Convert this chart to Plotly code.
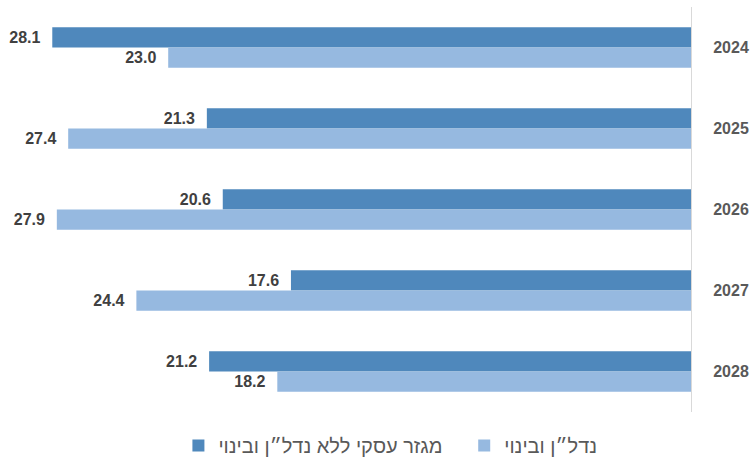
import plotly.graph_objects as go

years = ["2024", "2025", "2026", "2027", "2028"]
business_ex_re = [28.1, 21.3, 20.6, 17.6, 21.2]
real_estate = [23.0, 27.4, 27.9, 24.4, 18.2]

name_business = "מגזר עסקי ללא נדל״ן ובינוי"
name_re = "נדל״ן ובינוי"

dark = "#4F88BC"
light = "#96B9E0"
font_family = "Liberation Sans, Arial, sans-serif"
label_font = dict(family=font_family, size=16, color="#404040")
label_tpl = "<b>%{x:.1f}</b>\u00a0\u00a0"

fig = go.Figure()
fig.add_trace(go.Bar(
    y=years, x=business_ex_re, name=name_business + "\u00a0" * 3, orientation="h",
    marker=dict(color=dark, line=dict(width=0)),
    texttemplate=label_tpl, textposition="outside",
    textfont=label_font, cliponaxis=False,
))
fig.add_trace(go.Bar(
    y=years, x=real_estate, name=name_re, orientation="h",
    marker=dict(color=light, line=dict(width=0)),
    texttemplate=label_tpl, textposition="outside",
    textfont=label_font, cliponaxis=False,
))

fig.update_layout(
    width=751, height=465,
    margin=dict(l=0, r=60, t=7, b=48),
    plot_bgcolor="white", paper_bgcolor="white",
    barmode="group", bargap=0.5, bargroupgap=0,
    showlegend=True,
    legend=dict(
        orientation="h", x=0.565, xanchor="center", y=-0.035, yanchor="top",
        font=dict(family=font_family, size=20, color="#595959"),
    ),
    xaxis=dict(range=[30.4, 0], showgrid=False, zeroline=False,
               showticklabels=False, showline=False),
    yaxis=dict(autorange="reversed", side="right", showgrid=False,
               showline=True, linecolor="#D9D9D9", linewidth=1, ticks="",
               ticklabelstandoff=18,
               tickfont=dict(family=font_family, size=16, color="#595959",
                             weight="bold")),
)

fig.write_html("out.html")
